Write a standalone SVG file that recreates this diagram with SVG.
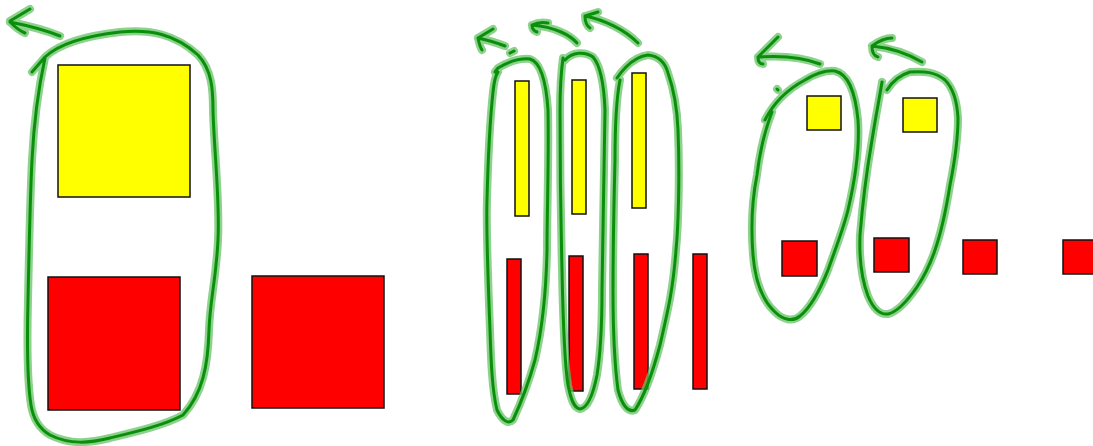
<svg xmlns="http://www.w3.org/2000/svg" width="1093" height="446" viewBox="0 0 1093 446">
  <style>
    .box { stroke: #111; stroke-width: 1.5; }
    .yellow { fill: #ffff00; }
    .red { fill: #ff0000; }
    .halo { fill: none; stroke: #66c266; stroke-opacity: 0.75; stroke-width: 8; stroke-linecap: round; stroke-linejoin: round; }
    .core { fill: none; stroke: #0a8f0a; stroke-width: 3; stroke-linecap: round; stroke-linejoin: round; }
  </style>
  <defs>
    <!-- hand-drawn loops -->
    <path id="loop1" d="M32,72 L45,57 C60,43 85,36 120,32 C150,29 175,34 198,55 C212,70 213,90 213,110 C214,150 220,200 218,240 C216,280 210,300 209,330 C208,365 203,393 183,415 C165,425 135,432 110,438 C90,443 70,445 50,435 C38,428 33,418 31,405 C27,380 27,340 28,300 C29,250 30,200 32,160 C34,120 38,90 45,58"/>
    <path id="loop2" d="M495,72 L498,68 C508,62 518,58 530,59 C540,62 546,80 548,110 C549,160 547,210 547,250 C546,300 542,330 535,360 C528,385 520,405 513,420 C508,425 502,420 497,410 C492,390 491,360 490,330 C488,280 486,230 487,200 C488,160 490,120 493,92 C494,82 495,76 498,72"/>
    <path id="loop3" d="M563,58 C560,80 560,95 560,110 C560,170 561,230 562,270 C563,320 564,360 568,385 C571,400 574,408 580,409 C588,408 593,395 597,375 C601,350 602,320 602,290 C603,240 604,180 605,110 C604,85 600,65 593,57 C585,51 572,52 565,60"/>
    <path id="loop4" d="M617,78 C621,72 623,70 626,67 C633,60 640,56 648,55 C658,56 665,62 668,73 C674,90 677,105 678,130 C680,180 678,230 676,250 C673,290 668,310 660,345 C652,375 645,395 635,410 C628,413 622,405 618,390 C614,360 613,330 613,290 C613,240 614,200 615,160 C615,130 616,100 620,80"/>
    <path id="loop5" d="M765,120 C775,100 790,88 805,80 C815,74 825,70 835,71 C848,74 855,90 858,120 C860,150 855,180 848,210 C843,230 835,250 828,270 C820,290 810,308 800,316 C793,322 783,320 775,312 C762,300 755,280 753,255 C751,230 752,200 757,175 C760,150 765,130 772,112"/>
    <path id="loop6" d="M882,82 C880,95 876,115 872,140 C866,175 862,210 860,235 C859,260 862,280 868,296 C873,308 880,315 888,314 C897,312 908,300 917,287 C925,275 930,265 935,250 C942,230 946,210 950,185 C955,160 958,140 958,118 C957,100 953,88 945,80 C935,72 925,71 910,72 C900,75 892,82 887,90"/>
    <!-- hand-drawn arrows -->
    <path id="arrow1" d="M60,36 C45,30 25,25 10,22 M10,21 L30,9 M10,22 C15,27 20,31 25,33"/>
    <path id="arrow2" d="M505,46 C497,43 488,40 478,38 M478,38 L493,29 M478,38 C479,43 480,47 482,50 M510,53 L514,51"/>
    <path id="arrow3" d="M577,43 C570,35 555,27 532,25 M532,25 C538,22 543,22 548,23 M532,25 C532,29 534,31 537,32"/>
    <path id="arrow4" d="M638,43 C625,30 605,20 585,16 M585,16 L598,12 M585,16 C585,22 587,26 590,28"/>
    <path id="arrow5" d="M820,64 C805,58 785,55 758,57 M758,57 L778,37 M758,57 C758,62 760,64 763,64 M777,89 L778,90"/>
    <path id="arrow6" d="M922,62 C910,55 892,48 872,46 M872,46 C880,40 886,38 892,38 M872,46 C872,52 874,56 878,57"/>
  </defs>

  <!-- left group: one big cell -->
  <g id="left-yellow"><rect class="box yellow" x="58" y="65" width="132" height="132"/></g>
  <g id="left-red"><rect class="box red" x="48" y="277" width="132" height="133"/></g>
  <g id="left-red-2"><rect class="box red" x="252" y="276" width="132" height="132"/></g>

  <!-- middle group: tall bars -->
  <g id="bar-y1"><rect class="box yellow" x="515" y="81" width="14" height="135"/></g>
  <g id="bar-y2"><rect class="box yellow" x="572" y="80" width="14" height="134"/></g>
  <g id="bar-y3"><rect class="box yellow" x="632" y="73" width="14" height="135"/></g>
  <g id="bar-r1"><rect class="box red" x="507" y="259" width="14" height="135"/></g>
  <g id="bar-r2"><rect class="box red" x="569" y="256" width="14" height="135"/></g>
  <g id="bar-r3"><rect class="box red" x="634" y="254" width="14" height="135"/></g>
  <g id="bar-r4"><rect class="box red" x="693" y="254" width="14" height="135"/></g>

  <!-- right group: small squares -->
  <g id="sq-y1"><rect class="box yellow" x="807" y="96" width="34" height="34"/></g>
  <g id="sq-y2"><rect class="box yellow" x="903" y="98" width="34" height="34"/></g>
  <g id="sq-r1"><rect class="box red" x="782" y="241" width="35" height="35"/></g>
  <g id="sq-r2"><rect class="box red" x="874" y="238" width="35" height="34"/></g>
  <g id="sq-r3"><rect class="box red" x="963" y="240" width="34" height="34"/></g>
  <g id="sq-r4"><rect class="box red" x="1063" y="240" width="34" height="34"/></g>

  <!-- green ink: loops and arrows -->
  <g id="connectors">
    <use href="#loop1" class="halo"/><use href="#loop1" class="core"/>
    <use href="#loop2" class="halo"/><use href="#loop2" class="core"/>
    <use href="#loop3" class="halo"/><use href="#loop3" class="core"/>
    <use href="#loop4" class="halo"/><use href="#loop4" class="core"/>
    <use href="#loop5" class="halo"/><use href="#loop5" class="core"/>
    <use href="#loop6" class="halo"/><use href="#loop6" class="core"/>
    <use href="#arrow1" class="halo"/><use href="#arrow1" class="core"/>
    <use href="#arrow2" class="halo"/><use href="#arrow2" class="core"/>
    <use href="#arrow3" class="halo"/><use href="#arrow3" class="core"/>
    <use href="#arrow4" class="halo"/><use href="#arrow4" class="core"/>
    <use href="#arrow5" class="halo"/><use href="#arrow5" class="core"/>
    <use href="#arrow6" class="halo"/><use href="#arrow6" class="core"/>
  </g>
</svg>
